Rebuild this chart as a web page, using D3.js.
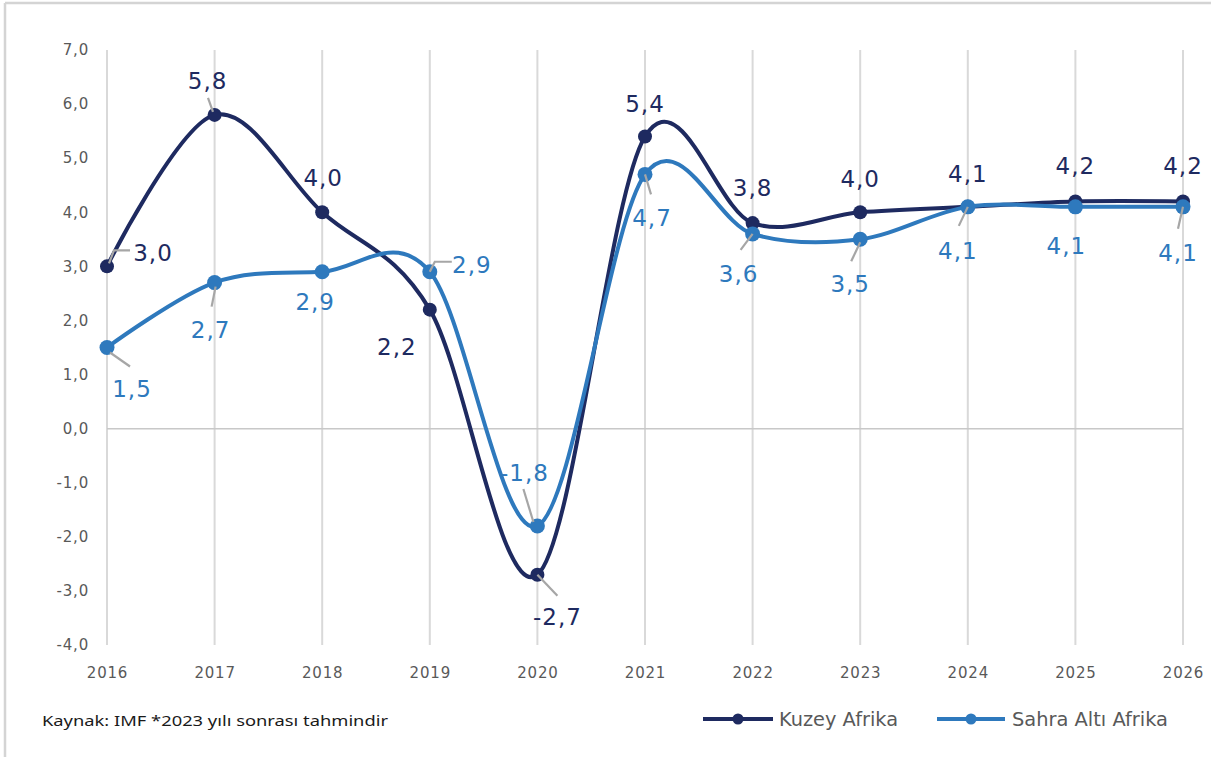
<!DOCTYPE html>
<html>
<head>
<meta charset="utf-8">
<script src="https://cdn.jsdelivr.net/npm/d3@7"></script>
<style>
	html, body { margin: 0; padding: 0; background: #fff; }
	svg { display: block; }
	.axis text { font-family: "DejaVu Sans", sans-serif; font-size: 15px; fill: #595959; letter-spacing: 0.8px; }
	.axis path, .axis line { display: none; }
	.data-label { font-family: "DejaVu Sans", sans-serif; font-size: 23px; letter-spacing: 1px; text-anchor: middle; }
	.legend text { font-family: "DejaVu Sans", sans-serif; font-size: 19px; fill: #595959; }
</style>
</head>
<body>
<script>
// chart values
var years = ["2016", "2017", "2018", "2019", "2020", "2021", "2022", "2023", "2024", "2025", "2026"];
var kuzeyAfrika = [3.0, 5.8, 4.0, 2.2, -2.7, 5.4, 3.8, 4.0, 4.1, 4.2, 4.2];
var sahraAltiAfrika = [1.5, 2.7, 2.9, 2.9, -1.8, 4.7, 3.6, 3.5, 4.1, 4.1, 4.1];
var yTicks = [-4, -3, -2, -1, 0, 1, 2, 3, 4, 5, 6, 7];
var seriesNames = ["Kuzey Afrika", "Sahra Altı Afrika"];
var sourceNote = "Kaynak: IMF *2023 yılı sonrası tahmindir";

// label placement relative to each point: [dx, dy(baseline)], and leader line offsets
var kuzeyLabelPos = [[46, -5], [-7, -26], [1, -26], [-33, 45], [20, 50], [0, -25], [0, -27], [0, -25], [0, -25], [0, -27], [0, -27]];
var kuzeyLeaders = [[[2, -3], [7, -16], [23, -16]], [[-1.6, -3], [-6.6, -17]], null, null, [[0, 0], [20, 21]], null, null, null, null, null, null];
var sahraLabelPos = [[25, 49], [-4, 55], [-7, 38], [42, 1], [-13, -45], [7, 52], [-14, 48], [-10, 53], [-10, 52], [-9, 47], [-5, 54]];
var sahraLeaders = [[[3, 5], [23, 19]], [[1, 4], [-3, 24]], null, [[0, 0], [5, -10], [22, -10]], [[-4, -4], [-14, -37]], [[0, 0], [6, 20]], [[0, 0], [-12, 16]], [[0, 3], [-9, 22]], [[0, 0], [-9, 19]], null, [[0, 0], [-5, 22]]];

var colors = { kuzey: "#1e2a60", sahra: "#2e79bd" };

var width = 1211, height = 757;

function commaFormat(v) {
	return v.toFixed(1).replace(".", ",");
}

var svg = d3.select("body").append("svg")
	.attr("width", width)
	.attr("height", height);

// frame
svg.append("line").attr("x1", 5).attr("x2", width).attr("y1", 3).attr("y2", 3)
	.attr("stroke", "#d4d4d4").attr("stroke-width", 2.5);
svg.append("line").attr("x1", 5).attr("x2", 5).attr("y1", 3).attr("y2", height)
	.attr("stroke", "#d4d4d4").attr("stroke-width", 2.5);

var x = d3.scalePoint().domain(years).range([107, 1183]);
var y = d3.scaleLinear().domain([-4, 7]).range([645, 50]);

// vertical gridlines
svg.append("g").selectAll("line")
	.data(years)
	.join("line")
	.attr("x1", function(d){ return x(d); })
	.attr("x2", function(d){ return x(d); })
	.attr("y1", y(7))
	.attr("y2", y(-4))
	.attr("stroke", "#d9d9d9")
	.attr("stroke-width", 2);

// zero line
svg.append("line")
	.attr("x1", x(years[0])).attr("x2", x(years[years.length - 1]))
	.attr("y1", y(0)).attr("y2", y(0))
	.attr("stroke", "#c8c8c8").attr("stroke-width", 1.5);

// axes
svg.append("g")
	.attr("class", "axis y")
	.attr("transform", "translate(" + x(years[0]) + ",0)")
	.call(d3.axisLeft(y).tickValues(yTicks).tickSize(0).tickPadding(18).tickFormat(commaFormat));

svg.append("g")
	.attr("class", "axis x")
	.attr("transform", "translate(0," + y(-4) + ")")
	.call(d3.axisBottom(x).tickSize(0).tickPadding(22));

var line = d3.line()
	.x(function(d, i){ return x(years[i]); })
	.y(function(d){ return y(d); })
	.curve(d3.curveCardinal.tension(0));

function drawSeries(values, color, lineWidth, radius) {
	var g = svg.append("g");
	g.append("path")
		.datum(values)
		.attr("d", line)
		.attr("fill", "none")
		.attr("stroke", color)
		.attr("stroke-width", lineWidth)
		.attr("stroke-linecap", "round");
	g.selectAll("circle")
		.data(values)
		.join("circle")
		.attr("cx", function(d, i){ return x(years[i]); })
		.attr("cy", function(d){ return y(d); })
		.attr("r", radius)
		.attr("fill", color);
}

drawSeries(kuzeyAfrika, colors.kuzey, 4, 7);
drawSeries(sahraAltiAfrika, colors.sahra, 4, 7.5);

function drawLabels(values, color, labelPos, leaders) {
	var g = svg.append("g");
	values.forEach(function(v, i){
		var px = x(years[i]), py = y(v);
		if (leaders[i]) {
			g.append("polyline")
				.attr("points", leaders[i].map(function(p){ return (px + p[0]) + "," + (py + p[1]); }).join(" "))
				.attr("fill", "none")
				.attr("stroke", "#a6a6a6")
				.attr("stroke-width", 2.2);
		}
		g.append("text")
			.attr("class", "data-label")
			.attr("x", px + labelPos[i][0])
			.attr("y", py + labelPos[i][1])
			.attr("fill", color)
			.text(commaFormat(v));
	});
}

drawLabels(kuzeyAfrika, colors.kuzey, kuzeyLabelPos, kuzeyLeaders);
drawLabels(sahraAltiAfrika, colors.sahra, sahraLabelPos, sahraLeaders);

// source note
svg.append("text")
	.attr("x", 42)
	.attr("y", 726)
	.attr("font-family", "'Noto Sans', sans-serif")
	.attr("font-size", 15)
	.attr("fill", "#1a1a1a")
	.attr("textLength", 346)
	.attr("lengthAdjust", "spacingAndGlyphs")
	.text(sourceNote);

// legend
var legendItems = [
	{ name: seriesNames[0], color: colors.kuzey, x1: 703, x2: 773, textX: 779, textLen: 119 },
	{ name: seriesNames[1], color: colors.sahra, x1: 937, x2: 1005, textX: 1012, textLen: 156 }
];
var legend = svg.append("g").attr("class", "legend");
legendItems.forEach(function(item){
	var ly = 719;
	legend.append("line")
		.attr("x1", item.x1).attr("x2", item.x2)
		.attr("y1", ly).attr("y2", ly)
		.attr("stroke", item.color).attr("stroke-width", 4);
	legend.append("circle")
		.attr("cx", (item.x1 + item.x2) / 2).attr("cy", ly).attr("r", 5.5)
		.attr("fill", item.color);
	legend.append("text")
		.attr("x", item.textX).attr("y", ly + 7)
		.attr("textLength", item.textLen)
		.attr("lengthAdjust", "spacingAndGlyphs")
		.text(item.name);
});
</script>
</body>
</html>
